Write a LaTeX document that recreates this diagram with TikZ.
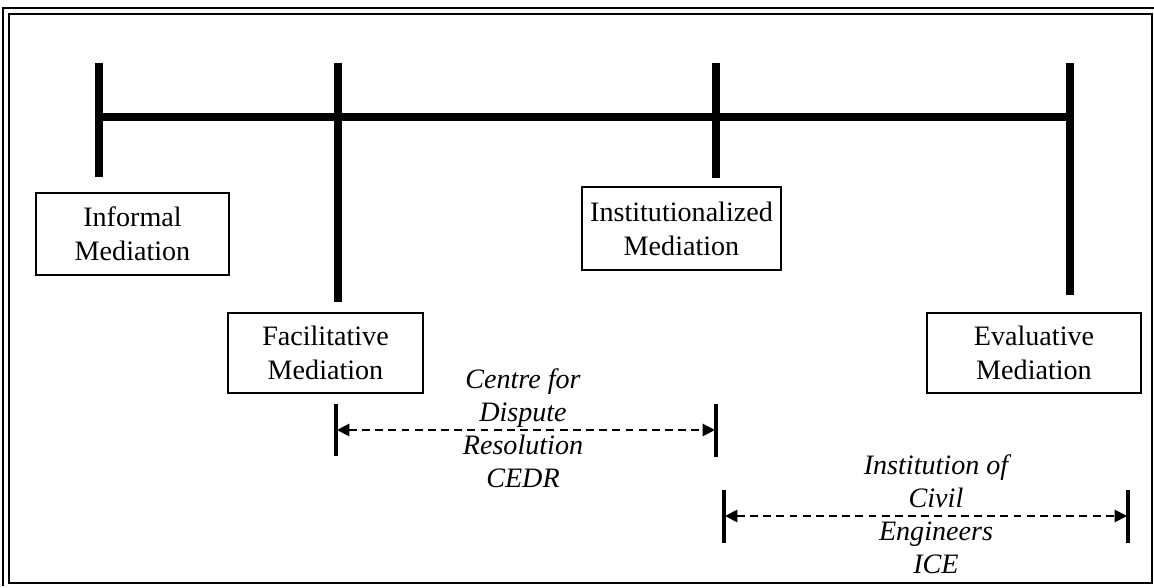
\documentclass[tikz,border=0pt]{standalone}
\usepackage{fontspec}
\setmainfont{Liberation Serif}
\usetikzlibrary{arrows.meta}
\begin{document}
\begin{tikzpicture}[x=0.02cm,y=-0.02cm,
  stage/.style={draw,line width=1.1pt,align=center,inner sep=0pt,
    font=\fontsize{16}{19.4}\selectfont},
  bar/.style={line width=4.4pt},
  tickmark/.style={line width=2pt},
  span/.style={dash pattern=on 4.5pt off 3pt,line width=1.1pt,
    {Triangle[length=7pt,width=7pt]}-{Triangle[length=7pt,width=7pt]}},
  body/.style={align=center,inner sep=0pt,
    font=\fontsize{16}{18.8}\selectfont\itshape}]
\useasboundingbox (0,0) rectangle (1154,588);

% double frame
\draw[line width=1.4pt] (3,586) -- (3,8) -- (1154,8);
\draw[line width=1.6pt] (9,14) rectangle (1152,583);

% mediation stages
\node[stage,minimum width=3.86cm,minimum height=1.64cm] (informal) at (132.5,234) {Informal\\Mediation};
\node[stage,minimum width=3.90cm,minimum height=1.60cm] (facil) at (325.5,353) {Facilitative\\Mediation};
\node[stage,minimum width=3.98cm,minimum height=1.66cm] (inst) at (681.5,228.5) {Institutionalized\\Mediation};
\node[stage,minimum width=4.28cm,minimum height=1.60cm] (eval) at (1034,353) {Evaluative\\Mediation};

% spectrum bar and its stems
\coordinate (s1t) at (99,63);   \coordinate (s1b) at (99,177);
\coordinate (s2t) at (338,63);  \coordinate (s2b) at (338,302);
\coordinate (s3t) at (716,63);  \coordinate (s3b) at (716,178);
\coordinate (s4t) at (1070,63); \coordinate (s4b) at (1070,295);
\coordinate (barL) at (99,117); \coordinate (barR) at (1070,117);
\draw[bar] (barL) -- (barR);
\draw[bar] (s1t) -- (s1b);
\draw[bar] (s2t) -- (s2b);
\draw[bar] (s3t) -- (s3b);
\draw[bar] (s4t) -- (s4b);

% CEDR range
\coordinate (c1t) at (336,404); \coordinate (c1b) at (336,456);
\coordinate (c2t) at (716,404); \coordinate (c2b) at (716,457);
\coordinate (c1) at (337,430);  \coordinate (c2) at (715,430);
\draw[tickmark] (c1t) -- (c1b);
\draw[tickmark] (c2t) -- (c2b);
\draw[span] (c1) -- (c2);
\node[body] (cedr) at (523,428) {Centre for\\Dispute\\Resolution\\CEDR};

% ICE range
\coordinate (i1t) at (724,490); \coordinate (i1b) at (724,543);
\coordinate (i2t) at (1128,490); \coordinate (i2b) at (1128,543);
\coordinate (i1) at (725,516);  \coordinate (i2) at (1127,516);
\draw[tickmark] (i1t) -- (i1b);
\draw[tickmark] (i2t) -- (i2b);
\draw[span] (i1) -- (i2);
\node[body] (ice) at (936,514) {Institution of\\Civil\\Engineers\\ICE};
\end{tikzpicture}
\end{document}
